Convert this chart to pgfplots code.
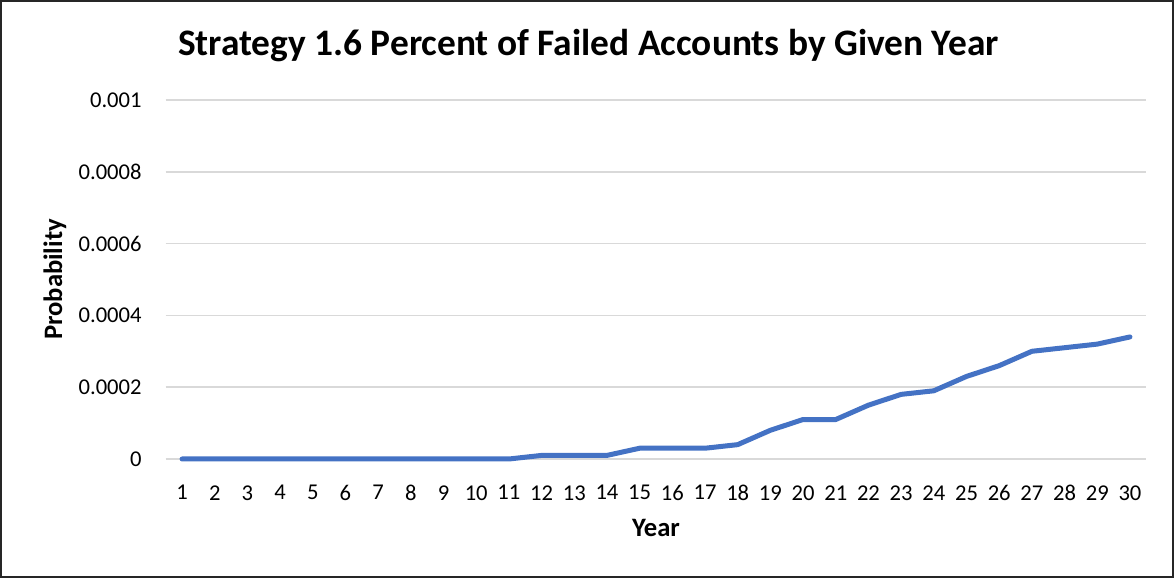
\documentclass[border=0pt]{standalone}
\usepackage{pgfplots}
\pgfplotsset{compat=1.18}
\usepackage{fontspec}
\setmainfont{Carlito}
\definecolor{lineblue}{RGB}{68,114,196}
\definecolor{gridgray}{RGB}{217,217,217}
\begin{document}
\begin{tikzpicture}[x=1pt,y=1pt]
\useasboundingbox (0,0) rectangle (587,289);
\draw[line width=1pt, black!85] (0.6,0.6) rectangle (586.4,288.4);
\node[anchor=base, font=\fontsize{18.7}{22}\selectfont\bfseries] at (294.25,261) {Strategy 1.6 Percent of Failed Accounts by Given Year};
\begin{axis}[
  at={(82.85pt,59.5pt)}, anchor=south west,
  scale only axis, width=490.3pt, height=179.5pt,
  xmin=0.5, xmax=30.5, ymin=0, ymax=0.001,
  axis line style={draw=none},
  major tick length=0pt,
  tick style={draw=none},
  xtick={1,...,30},
  ytick={0,0.0002,0.0004,0.0006,0.0008,0.001},
  yticklabels={0,0.0002,0.0004,0.0006,0.0008,0.001},
  scaled y ticks=false,
  /pgf/number format/assume math mode=true,
  tick label style={font=\fontsize{11.3}{13}\selectfont},
  yticklabel style={anchor=east, inner sep=0pt, xshift=-11.85pt},
  xticklabel style={anchor=north, inner sep=0pt, yshift=-13pt},
  ymajorgrids,
  grid style={gridgray, line width=0.75pt},
  xlabel={Year},
  ylabel={Probability},
  label style={font=\fontsize{13.3}{15}\selectfont\bfseries},
  xlabel style={at={(axis description cs:0.5,-0.1922)}, anchor=center},
  ylabel style={at={(axis description cs:-0.113,0.5)}, anchor=center},
  clip=false,
]
\addplot[lineblue, line width=2.5pt, line join=round, line cap=round] coordinates {
(1,0) (2,0) (3,0) (4,0) (5,0) (6,0) (7,0) (8,0) (9,0) (10,0) (11,0)
(12,0.00001) (13,0.00001) (14,0.00001) (15,0.00003) (16,0.00003) (17,0.00003)
(18,0.00004) (19,0.00008) (20,0.00011) (21,0.00011) (22,0.00015) (23,0.00018)
(24,0.00019) (25,0.00023) (26,0.00026) (27,0.00030) (28,0.00031) (29,0.00032) (30,0.00034)
};
\end{axis}
\end{tikzpicture}
\end{document}
